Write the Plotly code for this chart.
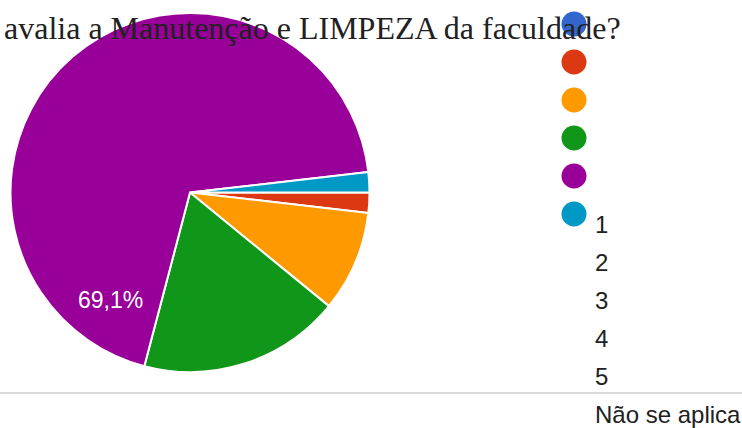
import plotly.graph_objects as go

# ---- data ----
categories = ["1", "2", "3", "4", "5", "Não se aplica"]
counts = [0, 1, 5, 10, 38, 1]
colors = ["#3366cc", "#dc3912", "#ff9900", "#109618", "#990099", "#0099c6"]
title_text = "avalia a Manutenção e LIMPEZA da faculdade?"
labelled_slice = 4  # only the big slice carries a percentage label

# ---- layout constants (pixels) ----
W, H = 742, 428
PIE_CX, PIE_CY, PIE_R = 190, 192.5, 179.5
LEG_X, LEG_Y0, LEG_STEP = 574, 24, 38
LEG_TEXT_DX = 21
LEG_TEXT_SHIFT = 5.35  # label column is shifted down by ~5.3 rows
RULE_Y = 393

total = sum(counts)
pct_label = f"{counts[labelled_slice] / total * 100:.1f}".replace(".", ",") + "%"

fig = go.Figure()

fig.add_trace(go.Pie(
    values=counts,
    labels=categories,
    sort=False,
    direction="clockwise",
    rotation=90,
    marker=dict(colors=colors, line=dict(color="white", width=2)),
    textinfo="none",
    hoverinfo="label+percent",
    showlegend=False,
    domain=dict(
        x=[(PIE_CX - PIE_R) / W, (PIE_CX + PIE_R) / W],
        y=[(H - PIE_CY - PIE_R) / H, (H - PIE_CY + PIE_R) / H],
    ),
))

rows = list(range(len(categories)))

# legend circles
fig.add_trace(go.Scatter(
    x=[0] * len(categories),
    y=rows,
    mode="markers",
    marker=dict(size=25, color=colors, line=dict(width=0)),
    showlegend=False,
    hoverinfo="skip",
))

# legend labels
fig.add_trace(go.Scatter(
    x=[LEG_TEXT_DX] * len(categories),
    y=[r + LEG_TEXT_SHIFT for r in rows],
    mode="text",
    text=categories,
    textposition="middle right",
    textfont=dict(family="Liberation Sans, Arial, sans-serif", size=24, color="#212121"),
    showlegend=False,
    hoverinfo="skip",
))

fig.update_xaxes(range=[-LEG_X, W - LEG_X], domain=[0, 1], visible=False, fixedrange=True)
fig.update_yaxes(range=[(H - LEG_Y0) / LEG_STEP, -LEG_Y0 / LEG_STEP], domain=[0, 1],
                 visible=False, fixedrange=True)

fig.add_annotation(
    text=pct_label, xref="paper", yref="paper",
    x=110 / W, y=(H - 300) / H, xanchor="center", yanchor="middle",
    showarrow=False,
    font=dict(family="Liberation Sans, Arial, sans-serif", size=23, color="white"),
)

fig.add_annotation(
    text=title_text, xref="paper", yref="paper",
    x=2 / W, y=(H - 28) / H, xanchor="left", yanchor="middle",
    showarrow=False,
    font=dict(family="Liberation Serif, Times New Roman, serif", size=32, color="#212121"),
)

fig.add_shape(type="line", xref="paper", yref="paper",
              x0=0, x1=1, y0=(H - RULE_Y) / H, y1=(H - RULE_Y) / H,
              line=dict(color="#d9d9d9", width=2))

fig.update_layout(
    width=W, height=H,
    margin=dict(l=0, r=0, t=0, b=0),
    paper_bgcolor="white", plot_bgcolor="rgba(0,0,0,0)",
    showlegend=False,
)

fig.write_html("out.html", config={"displayModeBar": False},
               post_script="document.body.style.margin='0';")
